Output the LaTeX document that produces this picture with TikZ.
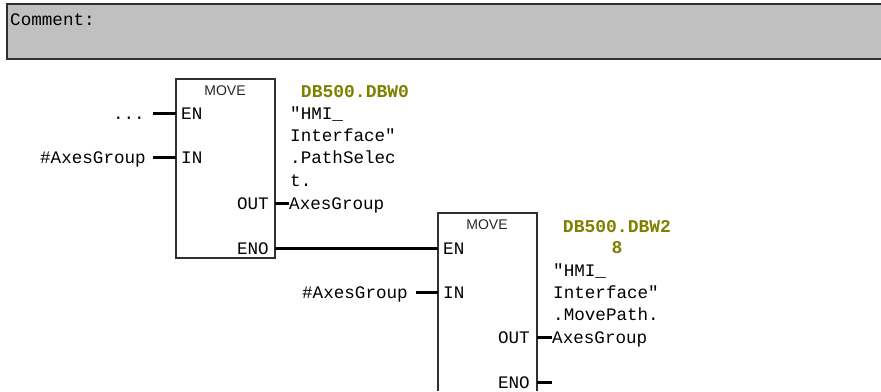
\documentclass[tikz,border=0pt]{standalone}
\usepackage{fontspec}
\setmainfont{Liberation Sans}
\newfontfamily\lmono{Liberation Mono}
\definecolor{cmtgray}{HTML}{C0C0C0}
\definecolor{oliv}{HTML}{808000}
\definecolor{edge}{HTML}{303030}
\tikzset{
  lbl/.style={font=\lmono\fontsize{17.6}{20}\selectfont, text=black, inner sep=0pt, anchor=mid west, yshift=-3.5pt},
  lblr/.style={lbl, anchor=mid east},
  addr/.style={font=\lmono\bfseries\fontsize{18}{20}\selectfont, text=oliv, inner sep=0pt, anchor=mid, yshift=-3.5pt},
  title/.style={font=\fontsize{14}{16}\selectfont, text=black!85, inner sep=0pt, anchor=mid, yshift=-1.5pt},
  wire/.style={line width=3pt, black},
  blockline/.style={line width=1.4pt, edge}
}
\begin{document}
\begin{tikzpicture}[x=1pt,y=-1pt]
\useasboundingbox (0,0) rectangle (881,391);
\fill[white] (0,0) rectangle (881,391);
% comment bar
\path[fill=cmtgray] (7,4) rectangle (881,59);
\draw[line width=1.6pt,edge] (881,4) -- (7,4) -- (7,59) -- (881,59);
\node[lbl] (cm) at (10,19) {Comment:};
% block 1
\draw[blockline] (176,79) rectangle (275,258);
\node[title] (t1) at (225,91) {MOVE};
\node[lbl] (en1) at (181,113) {EN};
\node[lbl] (in1) at (181,157) {IN};
\node[lblr] (out1) at (269,203) {OUT};
\node[lblr] (eno1) at (269,248) {ENO};
\coordinate (p1en) at (176,113);
\coordinate (p1in) at (176,157);
\coordinate (p1out) at (275,203);
\coordinate (p1eno) at (275,248);
\coordinate (w1en) at (153,113);
\coordinate (w1in) at (153,157);
\coordinate (w1outend) at (289,203);
\node[lblr] (dots) at (145,113) {...};
\node[lblr] (ax1) at (146,157) {\#AxesGroup};
\draw[wire] (w1en) -- (p1en);
\draw[wire] (w1in) -- (p1in);
\node[addr] (db1) at (355,91) {DB500.DBW0};
\node[lbl] (a1) at (290,113) {"HMI\_};
\node[lbl] (a2) at (290,135) {Interface"};
\node[lbl] (a3) at (290,157) {.PathSelec};
\node[lbl] (a4) at (290,180) {t.};
\node[lbl] (a5) at (289,203) {AxesGroup};
\draw[wire] (p1out) -- (w1outend);
% block 2
\draw[blockline] (438,391) -- (438,213) -- (537,213) -- (537,391);
\node[title] (t2) at (487,225) {MOVE};
\node[lbl] (en2) at (443,248) {EN};
\node[lbl] (in2) at (443,292) {IN};
\node[lblr] (out2) at (530,337) {OUT};
\node[lblr] (eno2) at (530,382) {ENO};
\coordinate (p2en) at (438,248);
\coordinate (p2in) at (438,292);
\coordinate (p2out) at (537,337);
\coordinate (p2eno) at (537,382);
\coordinate (p2end) at (552,382);
\coordinate (w2in) at (416,292);
\coordinate (w2outend) at (552,337);
\draw[wire] (p1eno) -- (p2en);
\node[lblr] (ax2) at (408,292) {\#AxesGroup};
\draw[wire] (w2in) -- (p2in);
\node[addr] (db2) at (617,226) {DB500.DBW2};
\node[addr] (db2b) at (617,247) {8};
\node[lbl] (b1) at (553,270) {"HMI\_};
\node[lbl] (b2) at (553,292) {Interface"};
\node[lbl] (b3) at (553,314) {.MovePath.};
\node[lbl] (b4) at (552,337) {AxesGroup};
\draw[wire] (p2out) -- (w2outend);
\draw[wire] (p2eno) -- (p2end);
\end{tikzpicture}
\end{document}
